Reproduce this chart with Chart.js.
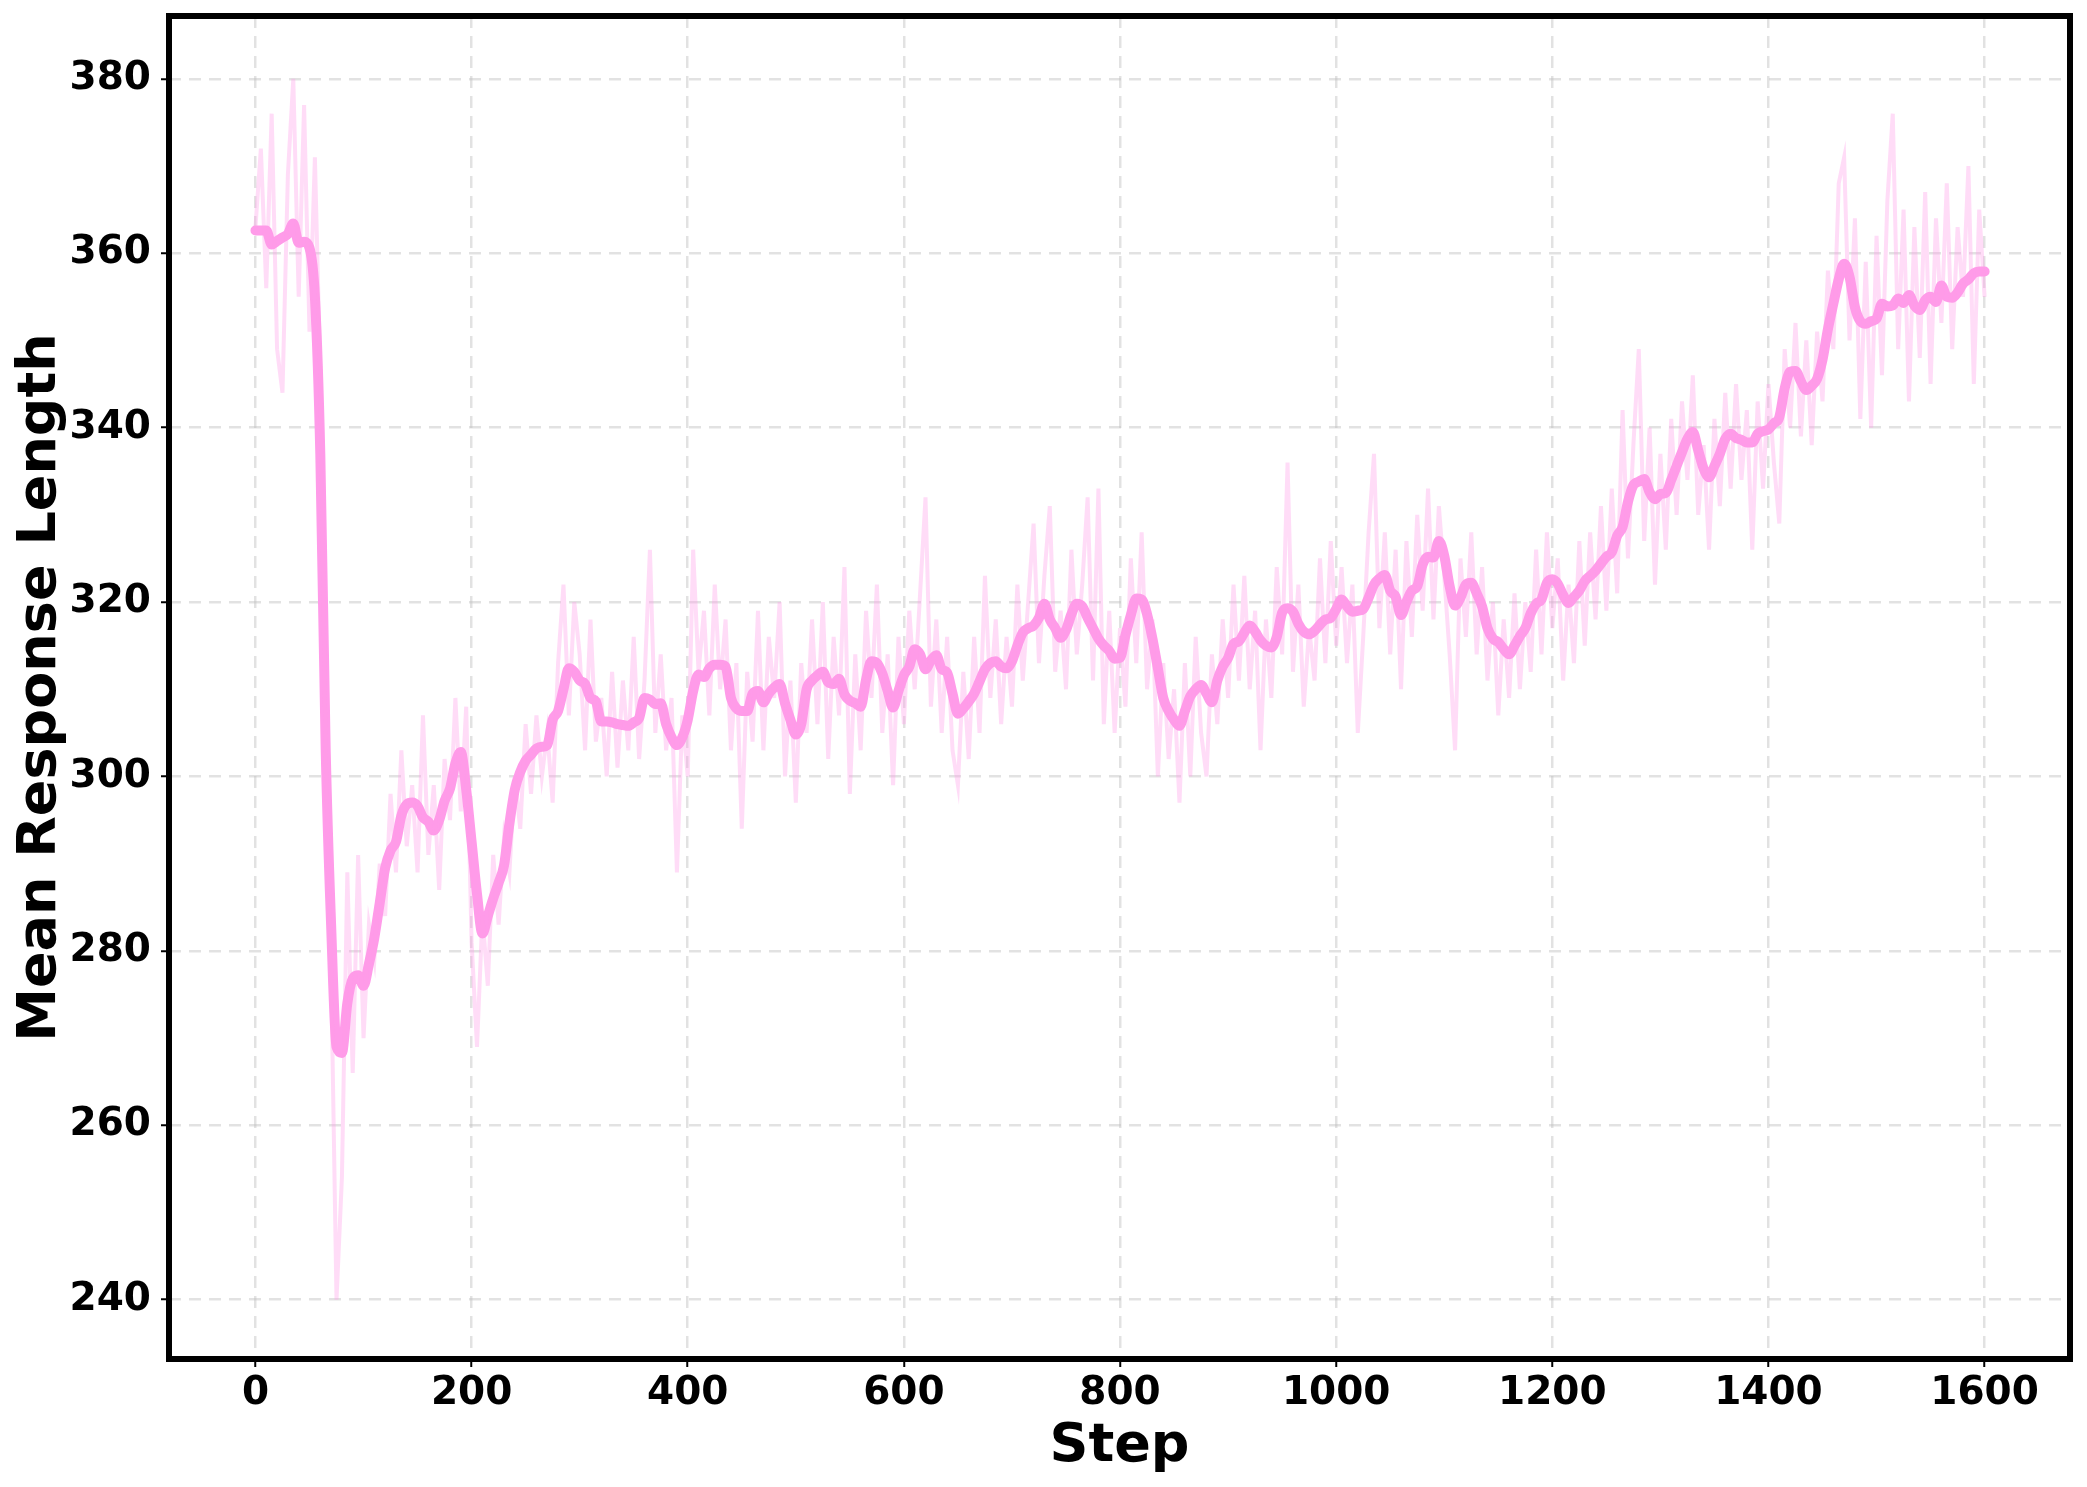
<!DOCTYPE html>
<html>
<head>
<meta charset="utf-8">
<script src="https://cdn.jsdelivr.net/npm/chart.js@4.4.1/dist/chart.umd.min.js"></script>
<style>
  html, body { margin: 0; padding: 0; background: #fff; }
  #wrap { width: 2087px; height: 1487px; }
</style>
</head>
<body>
<div id="wrap"><canvas id="lengthChart" width="2087" height="1487"></canvas></div>
<script>
// one reading every 5 steps, 0 .. 1600
const STEP_GAP = 5;

// raw per-step mean response length (light line)
const rawLength = [
  363, 372, 356, 376, 349, 344, 369, 380, 355, 377, 351, 371, 346, 302, 278, 240, 254, 289, 266, 291,
  270, 283, 279, 290, 284, 298, 289, 303, 292, 299, 289, 307, 291, 299, 287, 302, 295, 309, 296, 308,
  281, 269, 284, 276, 291, 283, 293, 289, 300, 294, 306, 298, 307, 300, 305, 297, 313, 322, 307, 320,
  314, 303, 318, 304, 309, 300, 312, 301, 311, 303, 316, 302, 311, 326, 305, 314, 303, 309, 289, 307,
  300, 326, 312, 319, 307, 322, 310, 318, 303, 313, 294, 312, 304, 319, 303, 316, 309, 320, 300, 311,
  297, 313, 305, 318, 306, 320, 302, 316, 307, 324, 298, 314, 303, 319, 309, 322, 305, 314, 299, 316,
  306, 319, 310, 321, 332, 308, 318, 305, 316, 303, 299, 312, 302, 316, 305, 323, 309, 318, 306, 316,
  308, 322, 311, 320, 329, 313, 323, 331, 312, 319, 310, 326, 314, 322, 332, 311, 333, 306, 319, 305,
  317, 308, 325, 313, 328, 310, 318, 300, 313, 302, 310, 297, 313, 300, 316, 305, 300, 314, 306, 318,
  309, 322, 311, 323, 310, 319, 303, 318, 309, 324, 314, 336, 312, 322, 308, 317, 311, 325, 313, 327,
  315, 324, 313, 322, 305, 316, 328, 337, 317, 328, 314, 326, 310, 327, 316, 330, 319, 333, 318, 331,
  323, 314, 303, 325, 316, 328, 314, 324, 311, 320, 307, 318, 309, 321, 310, 320, 312, 326, 314, 328,
  317, 325, 311, 322, 313, 327, 315, 328, 318, 331, 319, 333, 321, 342, 325, 338, 349, 327, 340, 322,
  337, 326, 341, 330, 343, 334, 346, 330, 338, 326, 341, 331, 344, 333, 345, 334, 342, 326, 343, 333,
  345, 336, 329, 349, 340, 352, 339, 350, 338, 351, 343, 358, 349, 368, 371, 350, 364, 341, 359, 340,
  362, 346, 366, 376, 349, 365, 343, 363, 348, 367, 345, 364, 352, 368, 349, 363, 355, 370, 345, 365,
  355
];

// smoothed curve (thick line)
const smoothLength = [
  362.6, 362.6, 362.6, 361.0, 361.4, 361.8, 362.2, 363.4, 361.2, 361.3, 360.6, 355.0, 337.0, 303.0, 283.0, 269.0, 268.3, 274.0, 276.8, 277.2,
  276.0, 278.5, 281.5, 285.5, 289.5, 291.5, 292.5, 295.5, 296.8, 297.0, 296.6, 295.3, 294.8, 293.8, 295.0, 297.2, 298.6, 301.5, 302.8, 298.5,
  292.5, 286.5, 282.0, 284.0, 286.0, 287.8, 289.8, 294.6, 298.5, 300.5, 301.8, 302.5, 303.2, 303.4, 303.6, 306.5, 307.5, 310.0, 312.4, 312.0,
  311.0, 310.6, 309.0, 308.6, 306.3, 306.3, 306.2, 306.0, 305.9, 305.8, 306.2, 306.7, 309.0, 308.8, 308.3, 308.4, 306.0, 304.5, 303.6, 304.5,
  306.5, 309.8, 311.7, 311.4, 312.4, 312.8, 312.8, 312.6, 309.0, 307.8, 307.5, 307.5, 309.5, 309.8, 308.5, 309.5, 310.2, 310.6, 308.4, 306.5,
  304.8, 306.0, 310.0, 311.0, 311.6, 312.0, 310.8, 310.6, 311.2, 309.4, 308.7, 308.4, 308.0, 311.1, 313.2, 313.0, 311.8, 309.8, 307.9, 309.8,
  311.6, 312.6, 314.6, 314.0, 312.3, 313.3, 313.9, 312.3, 311.9, 309.5, 307.2, 307.8, 308.6, 309.5, 310.9, 312.3, 313.0, 313.2, 312.6, 312.4,
  313.2, 315.0, 316.5, 317.0, 317.3, 318.2, 319.8, 318.0, 317.0, 315.9, 316.8, 318.6, 319.8, 319.5, 318.2, 317.0, 315.8, 315.0, 314.4, 313.5,
  313.6, 316.2, 318.5, 320.4, 320.3, 318.6, 315.8, 312.4, 309.0, 307.5, 306.5, 305.8, 307.5, 309.2, 310.0, 310.5, 309.5, 308.5, 311.0, 312.6,
  313.6, 315.2, 315.5, 316.5, 317.3, 316.6, 315.6, 315.0, 314.8, 316.0, 318.8, 319.3, 318.9, 317.5, 316.6, 316.3, 316.7, 317.4, 318.0, 318.2,
  319.2, 320.3, 319.5, 318.9, 319.0, 319.2, 320.5, 322.0, 322.7, 323.1, 321.3, 320.6, 318.5, 320.0, 321.3, 321.8, 324.3, 325.2, 325.1, 327.0,
  325.3, 321.8, 319.6, 320.5, 322.0, 322.2, 321.0, 319.5, 317.0, 315.8, 315.4, 314.6, 314.0, 315.0, 316.1, 317.0, 318.7, 319.8, 320.3, 322.2,
  322.6, 322.1, 320.8, 319.9, 320.6, 321.3, 322.4, 323.0, 323.6, 324.4, 325.2, 325.7, 327.6, 328.6, 331.5, 333.4, 333.8, 334.1, 332.6, 331.8,
  332.4, 332.5, 334.0, 335.6, 337.2, 338.7, 339.5, 337.4, 335.3, 334.3, 335.6, 337.0, 338.7, 339.3, 338.8, 338.6, 338.3, 338.3, 339.3, 339.6,
  339.8, 340.5, 341.2, 344.5, 346.4, 346.5, 345.3, 344.3, 344.8, 345.6, 347.8, 351.3, 354.2, 357.0, 358.8, 357.3, 353.8, 352.2, 351.9, 352.2,
  352.5, 354.2, 353.9, 354.0, 354.8, 354.3, 355.2, 354.0, 353.5, 354.6, 355.0, 354.4, 356.3, 355.0, 354.9, 355.5, 356.5, 357.0, 357.7, 357.9,
  357.9
];

const xTicks = [0, 200, 400, 600, 800, 1000, 1200, 1400, 1600];
const yTicks = [240, 260, 280, 300, 320, 340, 360, 380];

const toPoints = vals => vals.map((v, i) => ({ x: i * STEP_GAP, y: v }));

const tickFont = { family: 'DejaVu Sans', size: 39, weight: 'bold' };
const titleFont = { family: 'DejaVu Sans', size: 54, weight: 'bold' };

// black frame round the plot, like matplotlib spines
const framePlugin = {
  id: 'frame',
  afterDraw(chart) {
    const { ctx, chartArea: a } = chart;
    ctx.save();
    ctx.strokeStyle = '#000';
    ctx.lineWidth = 6;
    ctx.strokeRect(a.left, a.top, a.right - a.left, a.bottom - a.top);
    ctx.restore();
  }
};

const gridOpts = {
  color: 'rgba(190, 190, 190, 0.45)',
  lineWidth: 2.5,
  tickColor: '#000',
  tickWidth: 2,
  tickLength: 8,
  tickBorderDash: []
};

const ctx = document.getElementById('lengthChart').getContext('2d');
new Chart(ctx, {
  type: 'line',
  data: {
    datasets: [
      {
        label: 'raw',
        data: toPoints(rawLength),
        borderColor: 'rgba(255, 155, 233, 0.35)',
        borderWidth: 4,
        pointRadius: 0,
        tension: 0
      },
      {
        label: 'smoothed',
        data: toPoints(smoothLength),
        borderColor: '#ff9be9',
        borderWidth: 10,
        pointRadius: 0,
        cubicInterpolationMode: 'monotone',
        borderCapStyle: 'round',
        borderJoinStyle: 'round'
      }
    ]
  },
  options: {
    responsive: false,
    animation: false,
    devicePixelRatio: 1,
    layout: { padding: { top: 16, right: 17, bottom: 0, left: 0 } },
    plugins: { legend: { display: false }, tooltip: { enabled: false } },
    scales: {
      x: {
        type: 'linear',
        min: -80,
        max: 1679,
        afterBuildTicks: axis => { axis.ticks = xTicks.map(v => ({ value: v })); },
        afterFit: axis => { axis.height = 128; axis.paddingLeft = 0; axis.paddingRight = 0; },
        ticks: { font: tickFont, color: '#000', padding: 3, maxRotation: 0, callback: v => String(v) },
        grid: gridOpts,
        border: { display: false, dash: [12, 8] },
        title: { display: true, text: 'Step', font: titleFont, color: '#000', padding: { top: 0, bottom: 8 } }
      },
      y: {
        min: 233.2,
        max: 387.2,
        afterBuildTicks: axis => { axis.ticks = yTicks.map(v => ({ value: v })); },
        afterFit: axis => { axis.width = 169; axis.paddingTop = 0; axis.paddingBottom = 0; },
        ticks: { font: tickFont, color: '#000', padding: 10, callback: v => String(v) },
        grid: gridOpts,
        border: { display: false, dash: [12, 8] },
        title: { display: true, text: 'Mean Response Length', font: titleFont, color: '#000', padding: { top: 9, bottom: 0 } }
      }
    }
  },
  plugins: [framePlugin]
});
</script>
</body>
</html>
